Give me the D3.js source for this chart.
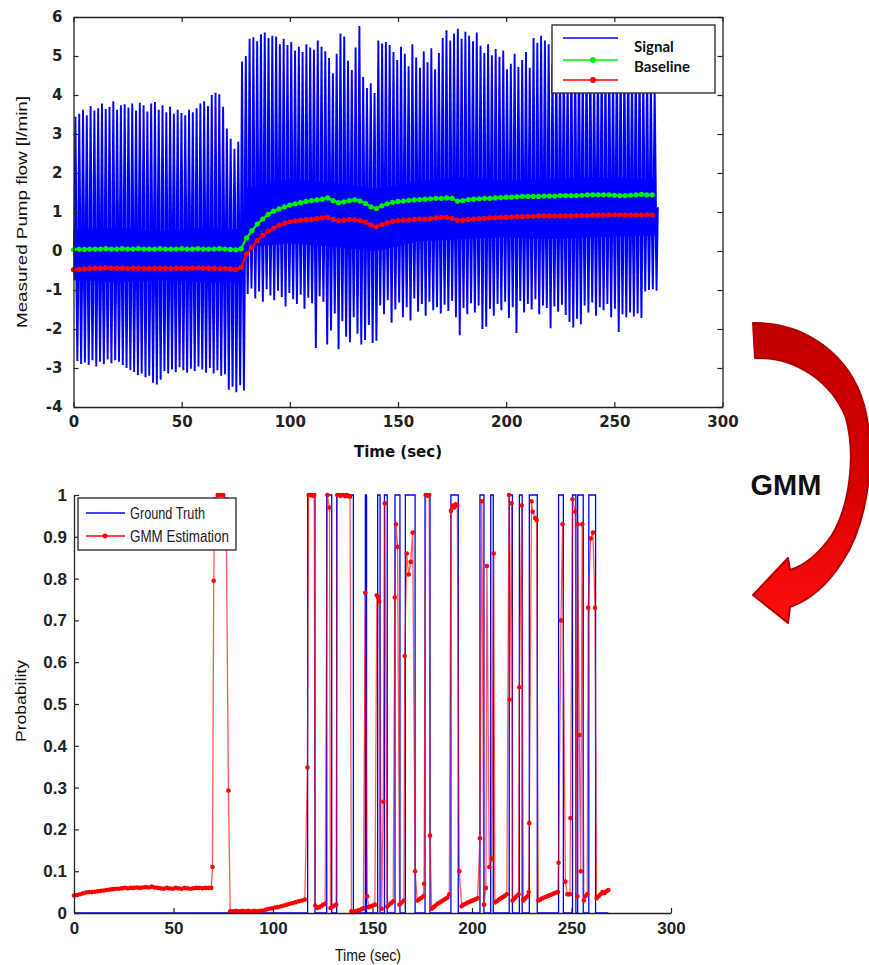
<!DOCTYPE html>
<html>
<head>
<meta charset="utf-8">
<script src="https://cdn.jsdelivr.net/npm/d3@7"></script>
<style>
  body { margin: 0; background: #fff; }
  svg { display: block; }
</style>
</head>
<body>
<svg id="fig" width="869" height="965"></svg>
<script>
// ================= data: measured pump flow =================
// one beat every flowCyclePeriod seconds, starting at flowCycleStart
const flowCycleStart = 0.9;
const flowCyclePeriod = 1.75;
// systolic peak of every beat [l/min]
const flowPeaks = [
  3.44, 3.52, 3.62, 3.48, 3.72, 3.60, 3.66, 3.78, 3.64, 3.70,
  3.84, 3.62, 3.74, 3.76, 3.68, 3.78, 3.60, 3.80, 3.74, 3.58,
  3.78, 3.82, 3.62, 3.74, 3.56, 3.70, 3.52, 3.62, 3.54, 3.48,
  3.62, 3.56, 3.66, 3.78, 3.84, 3.72, 4.00, 4.06, 4.02, 3.70,
  3.14, 2.88, 2.62, 2.80, 4.86, 5.00, 5.44, 5.48, 5.38, 5.56,
  5.60, 5.46, 5.52, 5.50, 5.30, 5.44, 5.28, 5.36, 5.14, 5.24,
  5.10, 5.30, 5.22, 5.16, 5.40, 5.24, 5.12,
  4.95, 4.56, 5.06, 5.58, 5.50, 4.88, 4.64, 5.22, 5.77,
  4.46, 4.18, 4.30, 4.05,
  5.40, 5.32, 5.36, 5.28, 5.10,
  4.90, 5.24, 5.06, 4.74, 5.30, 4.96, 4.70, 5.12, 4.84, 5.20, 4.66, 5.08,
  5.46, 5.66, 5.40, 5.58, 5.70, 5.44, 5.62, 5.52, 5.38, 5.60,
  5.26, 5.08, 5.30, 5.02, 5.18,
  4.98, 5.14, 4.66, 4.80, 5.06, 4.72, 4.90, 5.10, 4.70,
  5.46, 5.34, 5.52, 5.40, 5.30,
  4.80, 5.10, 4.90, 5.20, 4.70, 5.00, 4.90, 5.30, 4.80, 5.00,
  5.20, 4.60, 4.90, 5.10, 4.80, 5.00, 4.70, 5.20, 4.90, 4.80,
  5.10, 4.70, 5.00, 4.90, 4.60, 4.80, 4.50, 4.20
];
// minimum of every beat [l/min]
const flowTroughs = [
  -2.82, -2.90, -2.86, -2.92, -2.80, -2.96, -2.84, -2.90, -2.78, -2.88,
  -2.80, -2.84, -2.92, -3.00, -3.06, -3.10, -3.18, -3.14, -3.24, -3.20,
  -3.38, -3.42, -3.30, -3.08, -3.14, -3.04, -3.10, -2.98, -3.06, -3.12,
  -3.02, -3.08, -2.96, -3.04, -3.12, -3.00, -3.14, -3.06, -3.20, -3.16,
  -3.56, -3.48, -3.62, -3.44, -3.58,
  -1.10, -0.96, -1.22, -1.04, -1.30, -0.98, -1.14, -1.26, -1.02, -1.18,
  -1.42, -1.08, -1.24, -1.36, -1.12, -1.48, -1.20, -1.34, -2.49, -1.16,
  -1.30, -2.40,
  -2.04, -1.60, -2.52, -1.80, -2.20, -2.34, -1.70, -2.12, -2.40, -2.28,
  -1.90, -2.36, -2.30,
  -1.40, -1.62, -1.26, -1.84, -1.50, -1.32, -1.70, -1.44, -1.78, -1.22,
  -1.56, -1.36, -1.66, -1.30, -1.52, -1.44, -1.60,
  -1.38, -1.54, -1.28, -1.70, -2.16, -1.46, -1.62, -1.34, -1.58, -1.40,
  -2.00, -1.94, -1.48, -1.66, -1.36,
  -1.52, -1.30, -1.72, -1.44, -2.10, -1.28, -1.58, -1.36, -1.50, -1.24,
  -1.62, -1.40, -1.46, -1.98,
  -1.42, -1.56, -1.38, -1.64, -1.82, -1.96, -1.74, -1.88, -1.40, -1.58,
  -1.32, -1.66, -1.44, -1.52, -1.36, -1.70, -1.48, -2.08, -1.62, -1.70,
  -1.58, -1.68, -1.60, -1.72, -1.04, -1.00, -0.98, -1.02
];
// dense core of the waveform between beats
const flowCoreTime = [0, 20, 40, 60, 77.8, 79.5, 100, 120, 140, 160, 180, 200, 220, 240, 269];
const flowCoreHigh = [0.55, 0.60, 0.50, 0.60, 0.55, 1.60, 1.85, 1.75, 1.60, 1.80, 1.90, 1.80, 1.85, 1.90, 1.85];
const flowCoreLow  = [-0.75, -0.80, -0.75, -0.80, -0.80, 0.10, 0.20, 0.10, 0.00, 0.25, 0.30, 0.35, 0.30, 0.35, 0.40];

// baselines, one estimate every baselineStep seconds
const baselineStep = 2.5;
const upperBaseline = [
  0.03, 0.04, 0.04, 0.05, 0.05, 0.05, 0.06, 0.05, 0.05, 0.06,
  0.05, 0.05, 0.06, 0.05, 0.05, 0.05, 0.06, 0.05, 0.05, 0.05,
  0.06, 0.05, 0.05, 0.06, 0.05, 0.05, 0.05, 0.06, 0.05, 0.04,
  0.03, 0.06, 0.34, 0.52, 0.69, 0.82, 0.94, 1.02, 1.08, 1.13,
  1.18, 1.21, 1.24, 1.27, 1.29, 1.31, 1.33, 1.36, 1.29, 1.24,
  1.26, 1.29, 1.31, 1.28, 1.22, 1.13, 1.09, 1.16, 1.21, 1.25,
  1.27, 1.28, 1.30, 1.31, 1.32, 1.33, 1.34, 1.35, 1.35, 1.36,
  1.35, 1.28, 1.29, 1.32, 1.33, 1.34, 1.35, 1.35, 1.36, 1.37,
  1.38, 1.38, 1.39, 1.40, 1.40, 1.40, 1.40, 1.41, 1.41, 1.41,
  1.42, 1.42, 1.42, 1.42, 1.43, 1.44, 1.44, 1.44, 1.44, 1.44,
  1.43, 1.42, 1.42, 1.43, 1.44, 1.45, 1.44, 1.44
];
const lowerBaseline = [
  -0.48, -0.47, -0.46, -0.45, -0.44, -0.44, -0.43, -0.44, -0.44, -0.44,
  -0.45, -0.44, -0.44, -0.45, -0.45, -0.44, -0.44, -0.44, -0.45, -0.44,
  -0.44, -0.44, -0.44, -0.43, -0.44, -0.44, -0.44, -0.45, -0.45, -0.46,
  -0.48, -0.42, -0.08, 0.10, 0.27, 0.40, 0.51, 0.59, 0.66, 0.71,
  0.75, 0.77, 0.79, 0.80, 0.81, 0.83, 0.85, 0.86, 0.81, 0.78,
  0.79, 0.81, 0.80, 0.78, 0.74, 0.67, 0.62, 0.68, 0.72, 0.76,
  0.78, 0.79, 0.80, 0.81, 0.82, 0.82, 0.83, 0.85, 0.86, 0.86,
  0.84, 0.79, 0.79, 0.81, 0.82, 0.83, 0.84, 0.85, 0.85, 0.86,
  0.86, 0.87, 0.88, 0.88, 0.89, 0.89, 0.90, 0.90, 0.90, 0.90,
  0.90, 0.90, 0.90, 0.91, 0.91, 0.91, 0.92, 0.92, 0.92, 0.93,
  0.93, 0.92, 0.92, 0.92, 0.92, 0.92, 0.93, 0.92
];
const flowTicks = [-4, -3, -2, -1, 0, 1, 2, 3, 4, 5, 6];
const timeTicks = [0, 50, 100, 150, 200, 250, 300];
const upperLegend = ["Signal", "Baseline", ""];

// ================= data: detection =================
const truthOnsets  = [117.4, 127.0, 132.0, 146.4, 152.6, 156.0, 161.3, 166.5, 176.4, 189.4,
                      204.0, 209.4, 218.7, 223.8, 228.8, 243.5, 250.5, 253.1, 258.7];
const truthOffsets = [121.1, 129.5, 140.4, 147.0, 153.8, 157.4, 163.8, 171.4, 178.9, 193.1,
                      206.0, 210.7, 220.3, 225.2, 232.8, 245.9, 252.2, 255.9, 262.1];
const truthEnd = 268.5;
// [time (sec), probability]
const gmmEstimate = [
  [0,0.042],[1.5,0.043],[3,0.045],[4.5,0.047],[6,0.049],[7.5,0.05],[9,0.05],[10.5,0.051],
  [12,0.052],[13.5,0.053],[15,0.054],[16.5,0.055],[18,0.056],[19.5,0.057],[21,0.058],[22.5,0.058],
  [24,0.059],[25.5,0.06],[27,0.059],[28.5,0.06],[30,0.06],[31.5,0.061],[33,0.06],[34.5,0.061],
  [36,0.062],[37.5,0.061],[39,0.063],[40.5,0.061],[42,0.06],[43.5,0.059],[45,0.058],[46.5,0.06],
  [48,0.059],[49.5,0.058],[51,0.06],[52.5,0.059],[54,0.058],[55.5,0.06],[57,0.059],[58.5,0.058],
  [60,0.059],[61.5,0.06],[63,0.06],[64.5,0.059],[66,0.06],[67.5,0.06],[69,0.06],
  [69.6,0.11],[70.2,0.795],[70.8,0.99],[72.2,1],[73.6,1],[75,1],[76.4,0.99],[77.6,0.293],
  [78.5,0.004],[80,0.004],[81.5,0.005],[83,0.004],[84.5,0.005],[86,0.004],[87.5,0.005],[89,0.004],
  [90.5,0.005],[92,0.004],[93.5,0.005],[95,0.006],[96.5,0.008],[98,0.01],[99.5,0.011],[101,0.013],
  [102.5,0.014],[104,0.016],[105.5,0.018],[107,0.02],[108.5,0.022],[110,0.024],[111.5,0.026],
  [113,0.028],[114.5,0.03],[116,0.032],
  [117.3,0.348],[117.9,1],[118.6,1],[119.3,1],[120,0.998],[120.7,1],
  [121.2,0.018],[122.2,0.012],[123.2,0.014],[124.2,0.016],[125.2,0.02],[126.2,0.022],
  [127.3,1],[128.4,0.97],
  [128.9,0.012],[129.9,0.015],[130.9,0.018],[131.7,0.02],
  [132.3,1],[133.1,1],[133.9,0.998],[134.7,1],[135.5,1],[136.3,0.997],[137.1,1],[137.9,0.998],[138.7,0.996],
  [139.4,0.004],[140.4,0.002],[141.4,0.004],[142.4,0.005],[143.4,0.007],[144.4,0.009],[145.4,0.011],
  [146.4,0.766],[147.3,0.04],[148.2,0.014],[149.2,0.016],[150.2,0.018],[151.2,0.02],
  [152.2,0.76],[152.8,0.755],[153.4,0.745],[154.6,0.01],[155.4,0.266],[156.2,0.98],
  [157.4,0.015],[158.4,0.02],[159.4,0.024],[160.4,0.028],
  [161.2,0.755],[161.8,0.93],[162.6,0.876],
  [163.6,0.02],[164.7,0.025],[165.8,0.03],
  [166.2,0.615],[167.2,0.86],[168.2,0.81],[169.2,0.84],[170.2,0.91],
  [171.4,0.1],[172.5,0.03],[173.5,0.033],[174.5,0.036],[175.5,0.04],[175.9,0.07],
  [176.7,1],[177.3,1],[177.9,0.998],[178.5,1],
  [178.9,0.185],[179.7,0.01],[180.7,0.014],[181.7,0.018],[182.7,0.022],[183.7,0.025],[184.7,0.028],
  [185.7,0.031],[186.7,0.034],[187.7,0.037],[188.6,0.045],
  [189.4,0.962],[190.2,0.975],[191,0.97],[191.8,0.978],[192.6,0.975],
  [193.6,0.1],[194.8,0.016],[195.8,0.02],[196.8,0.022],[197.8,0.025],[198.8,0.027],[199.8,0.029],
  [200.8,0.031],[201.8,0.033],[202.8,0.035],
  [204,0.179],[204.9,0.985],[206,0.02],[207,0.06],[207.5,0.83],[208.7,0.11],[209.9,0.13],[210.9,0.86],
  [211.5,0.025],[212.5,0.028],[213.5,0.032],[214.5,0.035],[215.5,0.038],[216.5,0.041],[217.5,0.045],
  [218.6,1],[218.9,0.51],[219.9,0.98],
  [220.4,0.03],[221.4,0.035],[222.4,0.04],[223.4,0.045],
  [223.8,0.54],[225,0.975],
  [225.8,0.03],[226.8,0.035],[227.8,0.04],[228.5,0.05],[228.8,0.215],
  [229.9,0.985],[230.5,0.96],[231.7,0.945],[232.5,0.94],
  [233.3,0.03],[234.3,0.032],[235.3,0.035],[236.3,0.037],[237.3,0.039],[238.3,0.041],[239.3,0.043],
  [240.3,0.045],[241.3,0.047],[242.3,0.049],[243.2,0.05],
  [243.5,0.12],[244.7,0.7],[245.5,0.93],[246.9,0.075],[247.9,0.045],[248.6,0.045],[249.2,0.045],
  [249.5,0.227],[250.5,0.99],[251.9,0.96],[252.9,0.04],[253.1,0.93],[253.9,0.426],[254.6,0.1],
  [255.4,0.93],[256.2,0.03],[257,0.04],[257.9,0.045],[258.4,0.73],[259.6,0.896],[260.8,0.91],
  [261.8,0.73],[262.6,0.035],[263.6,0.04],[264.6,0.045],[265.6,0.05],[266.6,0.048],[267.6,0.052],
  [268.5,0.055]
];
const probTicks = [0, 0.1, 0.2, 0.3, 0.4, 0.5, 0.6, 0.7, 0.8, 0.9, 1];
const lowerLegend = ["Ground Truth", "GMM Estimation"];

// ================= drawing =================
const svg = d3.select("#fig");
const BLUE = "#0000ff", GREEN = "#00ee00", RED = "#ff0000", AXIS = "#222";
const WIDE = "'DejaVu Sans', 'Liberation Sans', Arial, sans-serif";
const ARIAL = "'Liberation Sans', Arial, sans-serif";
const NARROW = "'Liberation Sans Narrow', 'Arial Narrow', 'Liberation Sans', sans-serif";

function styleAxis(g) {
  g.select(".domain").attr("stroke", AXIS).attr("stroke-width", 1.3);
  g.selectAll(".tick line").attr("stroke", AXIS).attr("stroke-width", 1.2);
}
const plainNumber = d => String(d);

// ---------- upper panel: pump flow ----------
const xFlow = d3.scaleLinear().domain([0, 300]).range([73.5, 722.5]);
const yFlow = d3.scaleLinear().domain([-4, 6]).range([407, 17]);
const flowPanel = svg.append("g");

const core = flowCoreTime.map((t, i) => ({ t, hi: flowCoreHigh[i], lo: flowCoreLow[i] }));
const coreMid = d3.scaleLinear().domain(flowCoreTime).range(core.map(d => (d.hi + d.lo) / 2)).clamp(true);

flowPanel.append("path")
  .datum(core)
  .attr("fill", BLUE)
  .attr("d", d3.area().x(d => xFlow(d.t)).y0(d => yFlow(d.lo)).y1(d => yFlow(d.hi)));

const nBeats = Math.min(flowPeaks.length, flowTroughs.length);
const beats = d3.range(nBeats).map(i => {
  const t = flowCycleStart + i * flowCyclePeriod;
  return { t, tDown: t + flowCyclePeriod / 2, peak: flowPeaks[i], trough: flowTroughs[i] };
});
// every excursion is a slim wedge: wide where it leaves the core, sharp at its extreme
function wedge(t, v) {
  const x = xFlow(t), yb = yFlow(coreMid(t)), ye = yFlow(v);
  return `M${x - 2.2},${yb}L${x - 0.95},${ye}L${x + 0.95},${ye}L${x + 2.2},${yb}Z`;
}
const spikes = flowPanel.append("g").attr("fill", BLUE);
spikes.selectAll("path.up").data(beats).join("path").attr("class", "up")
  .attr("d", d => wedge(d.t, d.peak));
spikes.selectAll("path.down").data(beats).join("path").attr("class", "down")
  .attr("d", d => wedge(d.tDown, d.trough));

function drawBaseline(values, color) {
  const pts = values.map((v, i) => [i * baselineStep, v]);
  flowPanel.append("path").datum(pts)
    .attr("fill", "none").attr("stroke", color).attr("stroke-width", 2.2)
    .attr("d", d3.line().x(d => xFlow(d[0])).y(d => yFlow(d[1])));
  flowPanel.append("g").selectAll("circle").data(pts).join("circle")
    .attr("cx", d => xFlow(d[0])).attr("cy", d => yFlow(d[1])).attr("r", 2.6)
    .attr("fill", color);
}
drawBaseline(upperBaseline, GREEN);
drawBaseline(lowerBaseline, RED);

flowPanel.append("g").attr("transform", `translate(0,${yFlow(-4)})`)
  .call(d3.axisBottom(xFlow).tickValues(timeTicks).tickSize(-5).tickSizeOuter(0).tickPadding(9)
    .tickFormat(plainNumber))
  .call(styleAxis)
  .call(g => g.selectAll("text").attr("font-family", WIDE).attr("font-weight", "bold")
    .attr("font-size", 15).attr("fill", "#222"));
flowPanel.append("g").attr("transform", `translate(0,${yFlow(6)})`)
  .call(d3.axisTop(xFlow).tickValues(timeTicks).tickSize(-5).tickSizeOuter(0).tickFormat(""))
  .call(styleAxis);
flowPanel.append("g").attr("transform", `translate(${xFlow(0)},0)`)
  .call(d3.axisLeft(yFlow).tickValues(flowTicks).tickSize(-5).tickSizeOuter(0).tickPadding(11)
    .tickFormat(plainNumber))
  .call(styleAxis)
  .call(g => g.selectAll("text").attr("font-family", WIDE).attr("font-weight", "bold")
    .attr("font-size", 15).attr("fill", "#222"));
flowPanel.append("g").attr("transform", `translate(${xFlow(300)},0)`)
  .call(d3.axisRight(yFlow).tickValues(flowTicks).tickSize(-5).tickSizeOuter(0).tickFormat(""))
  .call(styleAxis);

flowPanel.append("text").attr("transform", "translate(27,212) rotate(-90)")
  .attr("text-anchor", "middle").attr("font-family", ARIAL).attr("font-size", 15)
  .attr("textLength", 232).attr("lengthAdjust", "spacingAndGlyphs")
  .attr("fill", "#111").text("Measured Pump flow [l/min]");
flowPanel.append("text").attr("x", xFlow(150)).attr("y", 457)
  .attr("text-anchor", "middle").attr("font-family", WIDE).attr("font-weight", "bold")
  .attr("font-size", 15).attr("fill", "#111").text("Time (sec)");

// legend
const lg = flowPanel.append("g");
lg.append("rect").attr("x", 552).attr("y", 25).attr("width", 163).attr("height", 68)
  .attr("fill", "#fff").attr("stroke", AXIS).attr("stroke-width", 1.3);
[[BLUE, 38, false], [GREEN, 60, true], [RED, 80, true]].forEach(([c, y, mark]) => {
  lg.append("line").attr("x1", 563).attr("x2", 618).attr("y1", y).attr("y2", y)
    .attr("stroke", c).attr("stroke-width", 1.6);
  if (mark) lg.append("circle").attr("cx", 593).attr("cy", y).attr("r", 3).attr("fill", c);
});
lg.selectAll("text").data(upperLegend).join("text")
  .attr("x", 634).attr("y", (d, i) => 52 + i * 20)
  .attr("font-family", "Lato, 'Open Sans', sans-serif").attr("font-weight", 700)
  .attr("font-size", 15).attr("fill", "#111").text(d => d);

// ---------- lower panel: detection probability ----------
const xProb = d3.scaleLinear().domain([0, 300]).range([74, 671]);
const yProb = d3.scaleLinear().domain([0, 1]).range([913, 495]);
const probPanel = svg.append("g");

const truthPts = [[0, 0]];
truthOnsets.forEach((on, i) => {
  truthPts.push([on, 0], [on, 1], [truthOffsets[i], 1], [truthOffsets[i], 0]);
});
truthPts.push([truthEnd, 0]);
probPanel.append("path").datum(truthPts)
  .attr("fill", "none").attr("stroke", BLUE).attr("stroke-width", 1.3)
  .attr("d", d3.line().x(d => xProb(d[0])).y(d => yProb(d[1])));

probPanel.append("path").datum(gmmEstimate)
  .attr("fill", "none").attr("stroke", RED).attr("stroke-opacity", 0.65).attr("stroke-width", 1.3)
  .attr("d", d3.line().x(d => xProb(d[0])).y(d => yProb(d[1])));
probPanel.append("g").selectAll("circle").data(gmmEstimate).join("circle")
  .attr("cx", d => xProb(d[0])).attr("cy", d => yProb(d[1])).attr("r", 2.3).attr("fill", RED);

probPanel.append("g").attr("transform", `translate(0,${yProb(0)})`)
  .call(d3.axisBottom(xProb).tickValues(timeTicks).tickSize(-5).tickSizeOuter(0).tickPadding(9)
    .tickFormat(plainNumber))
  .call(styleAxis)
  .call(g => g.selectAll("text").attr("font-family", NARROW).attr("font-weight", "bold")
    .attr("font-size", 17).attr("fill", "#222"));
probPanel.append("g").attr("transform", `translate(${xProb(0)},0)`)
  .call(d3.axisLeft(yProb).tickValues(probTicks).tickSize(-5).tickSizeOuter(0).tickPadding(7)
    .tickFormat(d => (d === 0 || d === 1) ? String(d) : d3.format(".1f")(d)))
  .call(styleAxis)
  .call(g => g.selectAll("text").attr("font-family", NARROW).attr("font-weight", "bold")
    .attr("font-size", 17).attr("fill", "#222"));

probPanel.append("text").attr("transform", "translate(26,701) rotate(-90)")
  .attr("text-anchor", "middle").attr("font-family", NARROW).attr("font-size", 15)
  .attr("textLength", 82).attr("lengthAdjust", "spacingAndGlyphs")
  .attr("fill", "#111").text("Probability");
probPanel.append("text").attr("x", 368).attr("y", 961)
  .attr("text-anchor", "middle").attr("font-family", NARROW).attr("font-size", 16)
  .attr("textLength", 66).attr("lengthAdjust", "spacingAndGlyphs")
  .attr("fill", "#111").text("Time (sec)");

const lb = probPanel.append("g");
lb.append("rect").attr("x", 78).attr("y", 498).attr("width", 158).attr("height", 52)
  .attr("fill", "#fff").attr("stroke", AXIS).attr("stroke-width", 1.3);
lb.append("line").attr("x1", 86).attr("x2", 125).attr("y1", 513).attr("y2", 513)
  .attr("stroke", BLUE).attr("stroke-width", 1.3);
lb.append("line").attr("x1", 86).attr("x2", 125).attr("y1", 536).attr("y2", 536)
  .attr("stroke", RED).attr("stroke-width", 1.3);
lb.append("circle").attr("cx", 105).attr("cy", 536).attr("r", 2.4).attr("fill", RED);
const legendWidths = [75, 99];
lb.selectAll("text").data(lowerLegend).join("text")
  .attr("x", 130).attr("y", (d, i) => 519 + i * 23)
  .attr("textLength", (d, i) => legendWidths[i]).attr("lengthAdjust", "spacingAndGlyphs")
  .attr("font-family", NARROW).attr("font-size", 16).attr("fill", "#222").text(d => d);

// ---------- annotation arrow between the panels ----------
const defs = svg.append("defs");
const grad = defs.append("linearGradient").attr("id", "arrowFill")
  .attr("x1", 0).attr("y1", 0).attr("x2", 0).attr("y2", 1);
grad.append("stop").attr("offset", "0%").attr("stop-color", "#c20000");
grad.append("stop").attr("offset", "55%").attr("stop-color", "#d80000");
grad.append("stop").attr("offset", "100%").attr("stop-color", "#ff1010");
svg.append("path")
  .attr("d", "M753,323 C805,322 850,355 864,405 C876,450 870,520 842,562 " +
             "C828,584 810,600 790,607 L788,623 L753,595 L788,558 L790,570 " +
             "C806,565 821,551 832,535 C850,505 856,455 846,418 C832,382 795,356 755,358 Z")
  .attr("fill", "url(#arrowFill)").attr("stroke", "#b00000").attr("stroke-width", 2)
  .attr("stroke-linejoin", "round");
svg.append("text").attr("x", 786).attr("y", 495).attr("text-anchor", "middle")
  .attr("font-family", ARIAL).attr("font-weight", "bold").attr("font-size", 29)
  .attr("fill", "#111").text("GMM");
</script>
</body>
</html>
